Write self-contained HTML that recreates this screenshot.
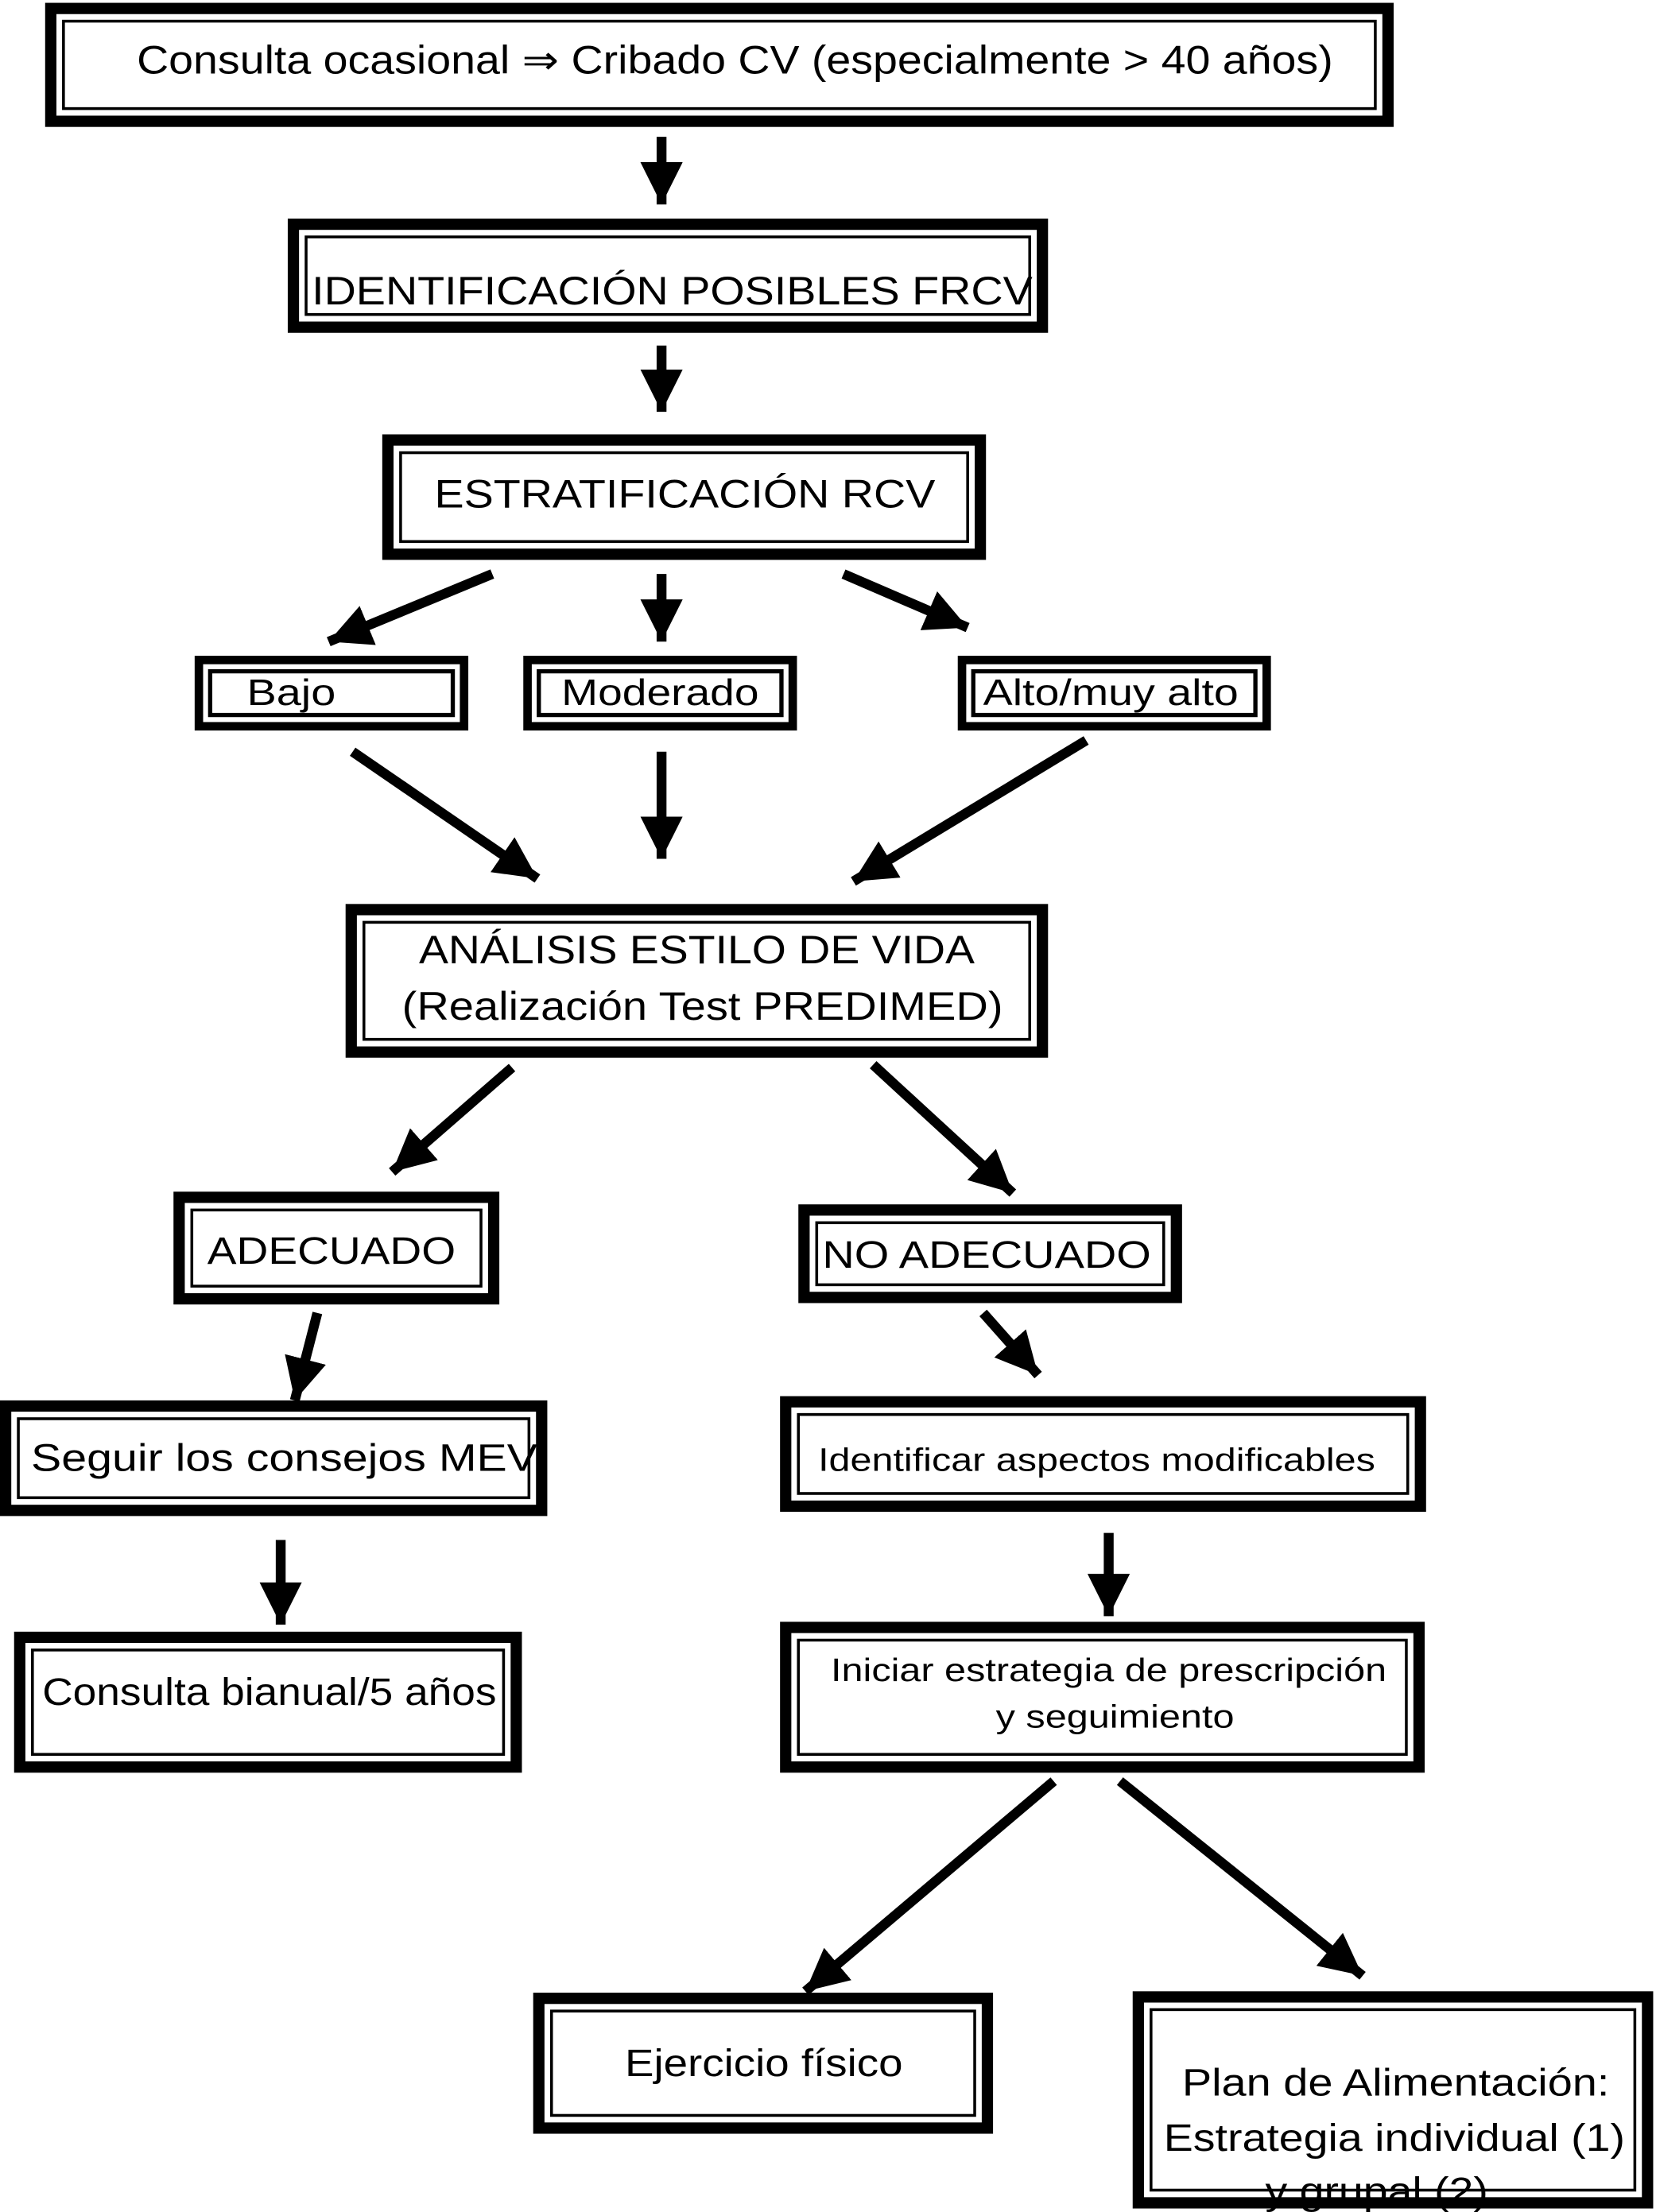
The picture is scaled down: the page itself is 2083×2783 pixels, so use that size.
<!DOCTYPE html>
<html><head><meta charset="utf-8"><style>html,body{margin:0;padding:0;background:#fff}svg{display:block}</style></head>
<body>
<svg width="2083" height="2783" viewBox="0 0 1174 1568.5" preserveAspectRatio="none" xmlns="http://www.w3.org/2000/svg" font-family="Liberation Sans, Arial, sans-serif">
<defs>
<marker id="ah" markerUnits="userSpaceOnUse" markerWidth="30" markerHeight="30" viewBox="0 0 26 26" refX="26" refY="13" orient="auto">
<path d="M0,0 L26,13 L0,26 Z" fill="#000"/>
</marker>
</defs>
<g fill="none" stroke="#000">
<!-- big boxes: outer T=8 -->
<rect x="36" y="6" width="948" height="80" stroke-width="8"/><rect x="45" y="15" width="930" height="62" stroke-width="2"/>
<rect x="208" y="159" width="531" height="73" stroke-width="8"/><rect x="217" y="168" width="513" height="55" stroke-width="2"/>
<rect x="275" y="312" width="420" height="81" stroke-width="8"/><rect x="284" y="321" width="402" height="63" stroke-width="2"/>
<rect x="249" y="645" width="490" height="101" stroke-width="8"/><rect x="258" y="654" width="472" height="83" stroke-width="2"/>
<rect x="127" y="849" width="223" height="72" stroke-width="8"/><rect x="136" y="858" width="205" height="54" stroke-width="2"/>
<rect x="570" y="858" width="264" height="62" stroke-width="8"/><rect x="579" y="867" width="246" height="44" stroke-width="2"/>
<rect x="4" y="997" width="380" height="74" stroke-width="8"/><rect x="13" y="1006" width="362" height="56" stroke-width="2"/>
<rect x="557" y="994" width="450" height="74" stroke-width="8"/><rect x="566" y="1003" width="432" height="56" stroke-width="2"/>
<rect x="14" y="1161" width="352" height="92" stroke-width="8"/><rect x="23" y="1170" width="334" height="74" stroke-width="2"/>
<rect x="557" y="1154" width="449" height="99" stroke-width="8"/><rect x="566" y="1163" width="431" height="81" stroke-width="2"/>
<rect x="382" y="1417" width="318" height="92" stroke-width="8"/><rect x="391" y="1426" width="300" height="74" stroke-width="2"/>
<rect x="807" y="1416" width="361" height="146" stroke-width="8"/><rect x="816" y="1425" width="343" height="128" stroke-width="2"/>
<!-- small risk boxes -->
<rect x="141" y="468" width="188" height="47" stroke-width="6"/><rect x="149" y="476" width="172" height="31" stroke-width="3"/>
<rect x="374" y="468" width="188" height="47" stroke-width="6"/><rect x="382" y="476" width="172" height="31" stroke-width="3"/>
<rect x="682" y="468" width="216" height="47" stroke-width="6"/><rect x="690" y="476" width="200" height="31" stroke-width="3"/>
</g>
<g stroke="#000" stroke-width="7" marker-end="url(#ah)">
<line x1="469" y1="97" x2="469" y2="145"/>
<line x1="469" y1="245" x2="469" y2="292"/>
<line x1="349" y1="407" x2="233" y2="455"/>
<line x1="469" y1="407" x2="469" y2="455"/>
<line x1="598" y1="407" x2="686" y2="445"/>
<line x1="250" y1="533" x2="381" y2="623"/>
<line x1="469" y1="533" x2="469" y2="609"/>
<line x1="770" y1="525" x2="605" y2="625"/>
<line x1="363" y1="757" x2="278" y2="831"/>
<line x1="619" y1="755" x2="718" y2="846"/>
<line x1="225" y1="931" x2="209" y2="993"/>
<line x1="697" y1="931" x2="736" y2="975"/>
<line x1="199" y1="1092" x2="199" y2="1152"/>
<line x1="786" y1="1087" x2="786" y2="1146"/>
<line x1="747" y1="1263" x2="571" y2="1412"/>
<line x1="794" y1="1263" x2="966" y2="1401"/>
</g>
<g fill="#000" lengthAdjust="spacingAndGlyphs">
<text x="97" y="52" font-size="28" textLength="848" lengthAdjust="spacingAndGlyphs">Consulta ocasional ⇒ Cribado CV (especialmente &gt; 40 años)</text>
<text x="221" y="216" font-size="28" textLength="511" lengthAdjust="spacingAndGlyphs">IDENTIFICACIÓN POSIBLES FRCV</text>
<text x="308" y="360" font-size="28" textLength="355" lengthAdjust="spacingAndGlyphs">ESTRATIFICACIÓN RCV</text>
<text x="175" y="500" font-size="26" textLength="63" lengthAdjust="spacingAndGlyphs">Bajo</text>
<text x="398" y="500" font-size="26" textLength="140" lengthAdjust="spacingAndGlyphs">Moderado</text>
<text x="697" y="500" font-size="26" textLength="181" lengthAdjust="spacingAndGlyphs">Alto/muy alto</text>
<text x="297" y="683" font-size="28" textLength="394" lengthAdjust="spacingAndGlyphs">ANÁLISIS ESTILO DE VIDA</text>
<text x="285" y="723" font-size="28" textLength="426" lengthAdjust="spacingAndGlyphs">(Realización Test PREDIMED)</text>
<text x="147" y="896" font-size="27" textLength="176" lengthAdjust="spacingAndGlyphs">ADECUADO</text>
<text x="583" y="899" font-size="27" textLength="233" lengthAdjust="spacingAndGlyphs">NO ADECUADO</text>
<text x="22" y="1043" font-size="27" textLength="359" lengthAdjust="spacingAndGlyphs">Seguir los consejos MEV</text>
<text x="580" y="1043" font-size="23" textLength="395" lengthAdjust="spacingAndGlyphs">Identificar aspectos modificables</text>
<text x="30" y="1209" font-size="27" textLength="322" lengthAdjust="spacingAndGlyphs">Consulta bianual/5 años</text>
<text x="589" y="1192" font-size="23" textLength="394" lengthAdjust="spacingAndGlyphs">Iniciar estrategia de prescripción</text>
<text x="706" y="1225" font-size="23" textLength="169" lengthAdjust="spacingAndGlyphs">y seguimiento</text>
<text x="443" y="1472" font-size="27" textLength="197" lengthAdjust="spacingAndGlyphs">Ejercicio físico</text>
<text x="838" y="1486" font-size="27" textLength="303" lengthAdjust="spacingAndGlyphs">Plan de Alimentación:</text>
<text x="825" y="1525" font-size="27" textLength="327" lengthAdjust="spacingAndGlyphs">Estrategia individual (1)</text>
<text x="897" y="1563" font-size="27" textLength="158" lengthAdjust="spacingAndGlyphs">y grupal (2)</text>
</g>
</svg>
</body></html>
